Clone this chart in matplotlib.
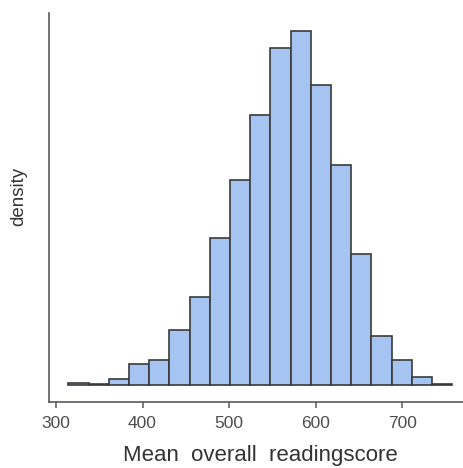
import numpy as np
import matplotlib
matplotlib.use("Agg")
import matplotlib.pyplot as plt

plt.rcParams['font.family'] = ['Liberation Sans', 'DejaVu Sans']

# Histogram bins (reading score) and density values
bin_start = 314.5
bin_width = 23.31
density = [0.0000384, 0.0000192, 0.000109, 0.00039, 0.000467, 0.00104,
           0.00168, 0.00282, 0.00392, 0.00516, 0.00645, 0.00678, 0.00574,
           0.00421, 0.00251, 0.00094, 0.00048, 0.000148, 0.0000192]
xticks = [300, 400, 500, 600, 700]
xlabel = "Mean  overall  readingscore"
ylabel = "density"

edges = bin_start + bin_width * np.arange(len(density) + 1)

W, H = 463, 468
fig = plt.figure(figsize=(W / 100, H / 100), dpi=100)
ax = fig.add_axes([0.1065, 0.1404, 0.9115, 0.8312])

ax.bar(edges[:-1], density, width=bin_width, align='edge',
       color='#a6c4f2', edgecolor='#3a3a3a', linewidth=1.2)

xmin, xmax = edges[0], edges[-1]
pad = 0.05 * (xmax - xmin)
ax.set_xlim(xmin - pad, xmax + pad)
ymax = max(density)
ax.set_ylim(-0.05 * ymax, 1.05 * ymax)

ax.set_xticks(xticks)
ax.set_xticklabels([str(t) for t in xticks])
ax.set_yticks([])

for s in ['top', 'right']:
    ax.spines[s].set_visible(False)
for s in ['left', 'bottom']:
    ax.spines[s].set_color('#5a5a5a')
    ax.spines[s].set_linewidth(1.2)

ax.tick_params(axis='x', length=4, width=1.1, color='#5a5a5a',
               labelsize=12.5, labelcolor='#4d4d4d', pad=6)
ax.set_xlabel(xlabel, fontsize=16, color='#333333', labelpad=10)
fig.text(19 / W, 1 - 196 / H, ylabel, rotation=90, ha='center', va='center',
         fontsize=13.5, color='#333333')

fig.savefig("out.png", dpi=100)
